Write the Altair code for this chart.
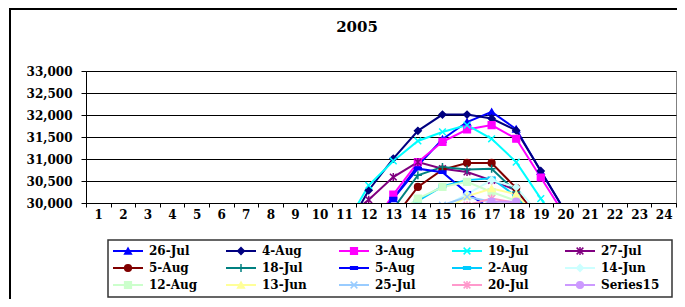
import altair as alt
import pandas as pd

title_text = "2005"
hours = list(range(1, 25))
y_ticks = [30000, 30500, 31000, 31500, 32000, 32500, 33000]

keys = [f"S{i}" for i in range(1, 16)]
names = ["26-Jul", "4-Aug", "3-Aug", "19-Jul", "27-Jul",
         "5-Aug", "18-Jul", "5-Aug", "2-Aug", "14-Jun",
         "12-Aug", "13-Jun", "25-Jul", "20-Jul", "Series15"]

s01 = [26900, 26300, 25900, 25700, 25800, 26200, 26800, 27500, 28200, 28800, 29200, 29600, 30100, 30850, 31450, 31840, 32070, 31680, 30720, 29800, 29300, 28900, 28300, 27600]
s02 = [27100, 26500, 26100, 25900, 26000, 26400, 27000, 27700, 28300, 28800, 29300, 30290, 31010, 31640, 32010, 32010, 31920, 31650, 30730, 29800, 29400, 29000, 28400, 27700]
s03 = [26800, 26200, 25800, 25600, 25700, 26100, 26700, 27400, 28000, 28600, 29000, 29380, 30190, 30930, 31390, 31670, 31770, 31460, 30580, 29700, 29200, 28800, 28200, 27500]
s04 = [27000, 26400, 26000, 25800, 25900, 26300, 26900, 27600, 28200, 28900, 29440, 30400, 30955, 31410, 31615, 31770, 31460, 30930, 30100, 29300, 29000, 28600, 28000, 27400]
s05 = [26700, 26100, 25700, 25500, 25600, 26000, 26600, 27300, 28000, 28900, 29620, 30075, 30590, 30930, 30780, 30705, 30515, 30290, 29600, 29100, 28800, 28400, 27900, 27300]
s06 = [26500, 25900, 25500, 25300, 25400, 25800, 26400, 27100, 27800, 28400, 28900, 29300, 29640, 30365, 30760, 30910, 30910, 30340, 29500, 29000, 28700, 28300, 27800, 27200]
s07 = [26400, 25800, 25400, 25200, 25300, 25700, 26300, 27000, 27700, 28300, 28800, 29300, 29870, 30630, 30820, 30760, 30780, 30250, 29000, 28800, 28500, 28100, 27600, 27000]
s08 = [26300, 25700, 25300, 25100, 25200, 25600, 26200, 26900, 27600, 28300, 28900, 29500, 30100, 30780, 30700, 30230, 29850, 29400, 29000, 28700, 28400, 28000, 27500, 26900]
s09 = [26200, 25600, 25200, 25000, 25100, 25500, 26100, 26800, 27500, 28100, 28700, 29100, 29500, 30050, 30380, 30520, 30560, 30150, 29500, 28900, 28600, 28200, 27700, 27100]
s10 = [25800, 25200, 24800, 24600, 24700, 25100, 25700, 26400, 27100, 27700, 28300, 28800, 29200, 29600, 29900, 30200, 30520, 30360, 29700, 29000, 28500, 28000, 27400, 26800]
s11 = [26000, 25400, 25000, 24800, 24900, 25300, 25900, 26600, 27300, 27900, 28500, 29000, 29700, 30100, 30365, 30480, 30250, 30050, 29600, 28900, 28500, 28100, 27600, 27000]
s12 = [25700, 25100, 24700, 24500, 24600, 25000, 25600, 26300, 27000, 27600, 28200, 28700, 29100, 29500, 29800, 30150, 30330, 30200, 29600, 28900, 28400, 27900, 27300, 26700]
s13 = [25900, 25300, 24900, 24700, 24800, 25200, 25800, 26500, 27200, 27800, 28400, 28900, 29300, 29700, 29950, 30140, 30030, 29850, 29400, 28800, 28400, 28000, 27500, 26900]
s14 = [25800, 25200, 24800, 24600, 24700, 25100, 25700, 26400, 27100, 27700, 28300, 28800, 29200, 29600, 29800, 29950, 30100, 30000, 29500, 28800, 28300, 27900, 27400, 26800]
s15 = [25600, 25000, 24600, 24400, 24500, 24900, 25500, 26200, 26900, 27500, 28100, 28600, 29000, 29400, 29700, 29850, 30030, 30030, 29500, 28800, 28300, 27800, 27200, 26600]
series_values = [s01, s02, s03, s04, s05, s06, s07, s08, s09, s10, s11, s12, s13, s14, s15]

colors = ["#0000FF", "#000080", "#FF00FF", "#00FFFF", "#800080",
          "#800000", "#008080", "#0000FF", "#00CCFF", "#CCFFFF",
          "#CCFFCC", "#FFFF99", "#99CCFF", "#FF99CC", "#CC99FF"]
X_SHAPE = "M-1,-1L1,1M-1,1L1,-1"
STAR = "M-1,-1L1,1M-1,1L1,-1M0,-1.2L0,1.2"
PLUS = "M-1.2,0L1.2,0M0,-1.2L0,1.2"
DASH = "M-1,-0.35L1,-0.35L1,0.35L-1,0.35Z"
shapes = ["triangle-up", "diamond", "square", X_SHAPE, STAR,
          "circle", PLUS, DASH, DASH, "diamond",
          "square", "triangle-up", X_SHAPE, STAR, "circle"]
stroked_only = {X_SHAPE, STAR, PLUS}
fills = ["transparent" if s in stroked_only else c for s, c in zip(shapes, colors)]

FONT = "DejaVu Serif"

df = pd.DataFrame([
    {"key": k, "hour": h, "value": v}
    for k, arr in zip(keys, series_values)
    for h, v in zip(hours, arr)
])
leg_df = pd.DataFrame([
    {"key": k, "name": n, "col": i % 5, "row": i // 5}
    for i, (k, n) in enumerate(zip(keys, names))
])

color_scale = alt.Scale(domain=keys, range=colors)
shape_scale = alt.Scale(domain=keys, range=shapes)
fill_scale = alt.Scale(domain=keys, range=fills)

x_tick_values = [h - 0.5 for h in hours] + [hours[-1] + 0.5] + hours


def x_enc():
    return alt.X(
        "hour:Q",
        scale=alt.Scale(domain=[0.5, 24.5], nice=False, zero=False),
        axis=alt.Axis(
            values=x_tick_values, format=".0f",
            labelExpr="datum.value % 1 === 0 ? datum.label : ''",
            tickOpacity={"condition": {"test": "datum.value % 1 === 0", "value": 0}, "value": 1},
            grid=False, tickSize=4, tickWidth=1, tickColor="black", domainColor="black",
            labelFont=FONT, labelFontSize=12, labelFontWeight="bold", labelColor="black",
            labelPadding=2, labelOverlap=False, labelFlush=False, title=None,
        ),
    )


def y_enc():
    return alt.Y(
        "value:Q",
        scale=alt.Scale(domain=[30000, 33000], nice=False, zero=False),
        axis=alt.Axis(
            values=y_ticks, format=",d", grid=True, gridColor="black", gridWidth=1,
            tickSize=5, tickColor="black", domainColor="black",
            labelFont=FONT, labelFontSize=12, labelFontWeight="bold", labelColor="black",
            labelPadding=9, labelOverlap=False, title=None,
        ),
    )


base = alt.Chart(df)
lines = base.mark_line(clip=True, strokeWidth=2).encode(
    x=x_enc(), y=y_enc(),
    color=alt.Color("key:N", scale=color_scale, legend=None),
)
points = base.mark_point(clip=True, filled=True, size=45, strokeWidth=1.5, opacity=1).encode(
    x=x_enc(), y=y_enc(),
    shape=alt.Shape("key:N", scale=shape_scale, legend=None),
    fill=alt.Fill("key:N", scale=fill_scale, legend=None),
    stroke=alt.Stroke("key:N", scale=color_scale, legend=None),
)

one = pd.DataFrame({"a": [0]})
frame = alt.Chart(one).mark_rect(fill="transparent", stroke="black", strokeWidth=2).encode(
    x=alt.value(-76), x2=alt.value(640), y=alt.value(-62), y2=alt.value(300)
)
title = alt.Chart(one).mark_text(
    font=FONT, fontSize=15, fontWeight="bold", color="black", baseline="middle", align="center"
).encode(x=alt.value(271), y=alt.value(-44), text=alt.value(title_text))

main = alt.layer(frame, title, lines, points)

leg_x = alt.X("col:Q", scale=alt.Scale(domain=[0, 4], range=[27, 479]), axis=None)
leg_y = alt.Y("row:Q", scale=alt.Scale(domain=[0, 2], range=[180, 214]), axis=None)
leg_box = alt.Chart(one).mark_rect(fill="white", stroke="#333333", strokeWidth=1.5).encode(
    x=alt.value(22), x2=alt.value(586), y=alt.value(169), y2=alt.value(226)
)
leg_rule = alt.Chart(leg_df).mark_rule(strokeWidth=2, x2Offset=30).encode(
    x=leg_x, x2="col:Q", y=leg_y,
    color=alt.Color("key:N", scale=color_scale, legend=None),
)
leg_pts = alt.Chart(leg_df).mark_point(filled=True, size=45, strokeWidth=1.5, opacity=1, xOffset=15).encode(
    x=leg_x, y=leg_y,
    shape=alt.Shape("key:N", scale=shape_scale, legend=None),
    fill=alt.Fill("key:N", scale=fill_scale, legend=None),
    stroke=alt.Stroke("key:N", scale=color_scale, legend=None),
)
leg_txt = alt.Chart(leg_df).mark_text(
    xOffset=36, align="left", baseline="middle", font=FONT, fontSize=12, fontWeight="bold", color="black"
).encode(x=leg_x, y=leg_y, text="name:N")
legend = alt.layer(leg_box, leg_rule, leg_pts, leg_txt)

chart = alt.layer(main, legend).resolve_scale(x="independent", y="independent").properties(
    width=590, height=132,
    padding={"left": 78, "top": 63, "right": 1, "bottom": 96},
    autosize=alt.AutoSizeParams(type="none"),
    background="white",
).configure_view(stroke="#808080", strokeWidth=1)

chart.save("out.html", embed_options={"renderer": "svg", "actions": False})
